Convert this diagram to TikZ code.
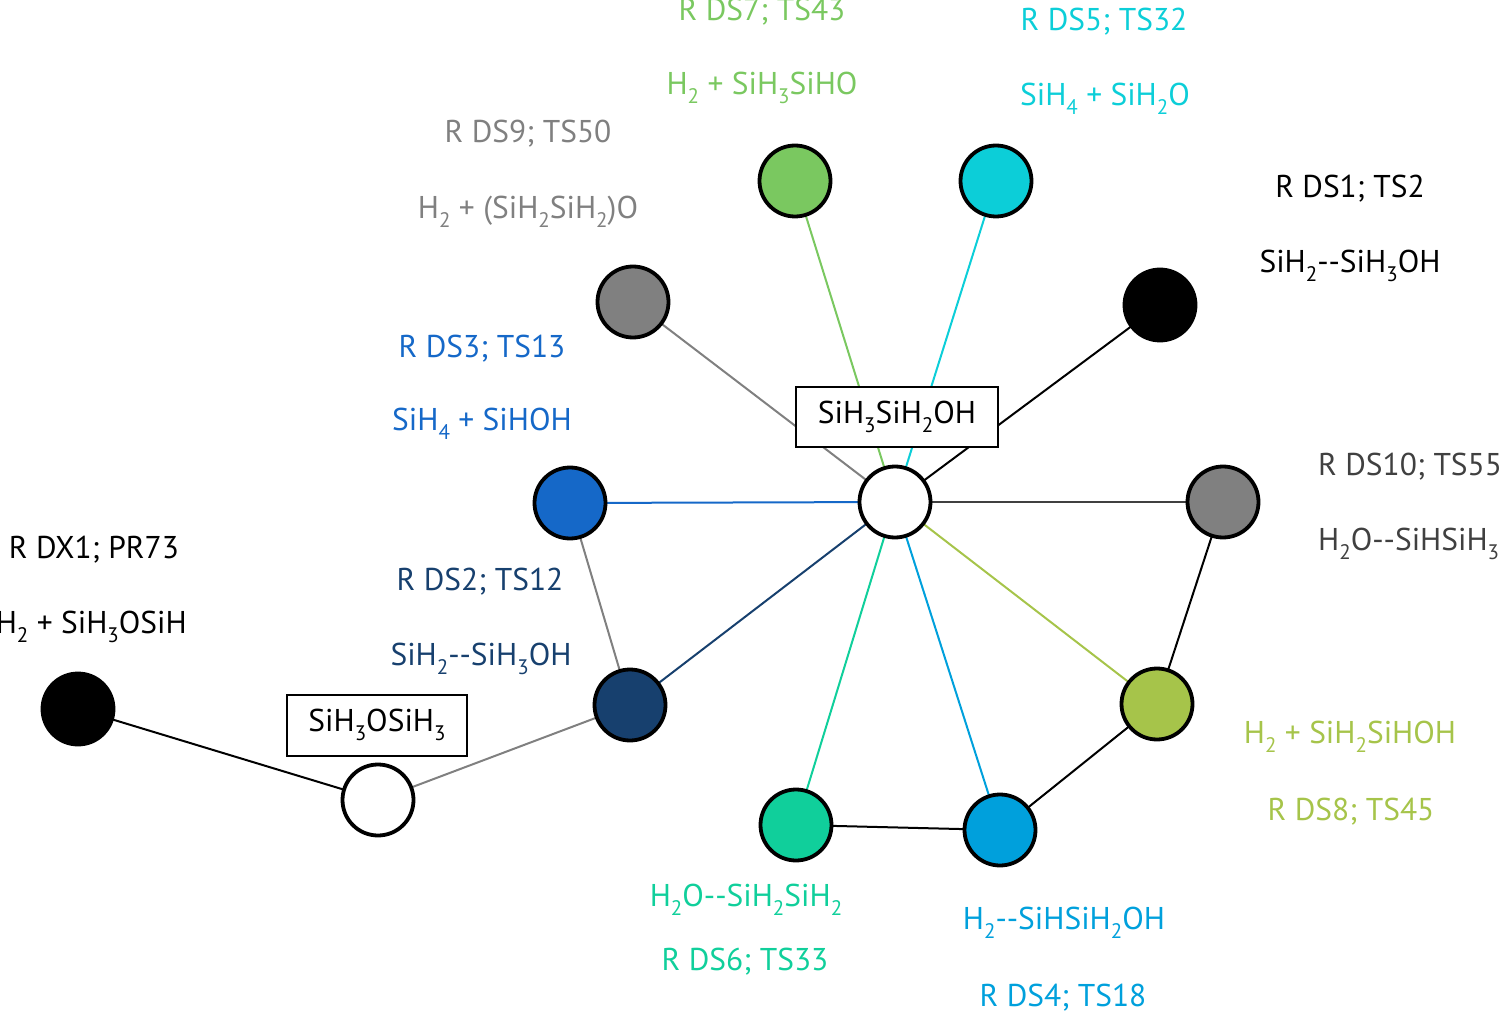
\documentclass[tikz,border=0pt]{standalone}
\usepackage{fontspec}
\setmainfont{PT Sans}
\pgfdeclarelayer{background}
\pgfsetlayers{background,main}
\definecolor{cgreen}{RGB}{122,200,96}
\definecolor{ccyan}{RGB}{12,206,216}
\definecolor{cgray}{RGB}{128,128,128}
\definecolor{cdgray}{RGB}{64,64,64}
\definecolor{cblue}{RGB}{21,104,200}
\definecolor{cnavy}{RGB}{23,64,110}
\definecolor{colive}{RGB}{166,196,74}
\definecolor{csky}{RGB}{0,160,220}
\definecolor{cteal}{RGB}{16,207,155}
\newcommand\sbs[1]{\raisebox{-0.3em}{\fontsize{21}{24}\selectfont #1}}
\begin{document}
\begin{tikzpicture}[x=1pt,y=-1pt,
  st/.style={circle, draw=black, line width=3.8pt, minimum size=71pt, inner sep=0pt},
  lbl/.style={font=\fontsize{31.5}{36}\selectfont, inner sep=0pt},
  mbox/.style={draw=black, line width=2pt, fill=white, font=\fontsize{31.5}{36}\selectfont, inner sep=0pt},
  edge/.style={line width=2pt}]
\useasboundingbox (0,0) rectangle (1500,1016);
% circles
\node[st, fill=white] (c) at (895,502) {};
\node[st, fill=black] (ds1) at (1160,305) {};
\node[st, fill=ccyan] (ds5) at (996,181) {};
\node[st, fill=cgreen] (ds7) at (795,181) {};
\node[st, fill=cgray] (ds9) at (633,302) {};
\node[st, fill=cblue] (ds3) at (570,503) {};
\node[st, fill=cgray] (ds10) at (1223,502) {};
\node[st, fill=colive] (ds8) at (1157,704) {};
\node[st, fill=csky] (ds4) at (1000,830) {};
\node[st, fill=cteal] (ds6) at (796,825) {};
\node[st, fill=cnavy] (ds2) at (630,705) {};
\node[st, fill=white] (w2) at (378,800) {};
\node[st, fill=black] (dx1) at (78,709) {};
% boxes
\node[mbox, minimum width=202pt, minimum height=60pt] (b1) at (897,417) {SiH\sbs{3}SiH\sbs{2}OH};
\node[mbox, minimum width=180pt, minimum height=61pt] (b2) at (377,725) {SiH\sbs{3}OSiH\sbs{3}};
% edges
\begin{pgfonlayer}{background}
\draw[edge, black] (c.center) -- (ds1.center);
\draw[edge, ccyan] (c.center) -- (ds5.center);
\draw[edge, cgreen] (c.center) -- (ds7.center);
\draw[edge, cgray] (c.center) -- (ds9.center);
\draw[edge, cblue] (c.center) -- (ds3.center);
\draw[edge, cdgray] (c.center) -- (ds10.center);
\draw[edge, colive] (c.center) -- (ds8.center);
\draw[edge, csky] (c.center) -- (ds4.center);
\draw[edge, cteal] (c.center) -- (ds6.center);
\draw[edge, cnavy] (c.center) -- (ds2.center);
\draw[edge, cgray] (ds3.center) -- (ds2.center);
\draw[edge, cgray] (ds2.center) -- (w2.center);
\draw[edge, black] (w2.center) -- (dx1.center);
\draw[edge, black] (ds10.center) -- (ds8.center);
\draw[edge, black] (ds8.center) -- (ds4.center);
\draw[edge, black] (ds4.center) -- (ds6.center);
\end{pgfonlayer}
% labels
\node[lbl, text=cgreen] (t7a) at (762,12) {R DS7; TS43};
\node[lbl, text=cgreen] (t7b) at (762,88) {H\sbs{2} + SiH\sbs{3}SiHO};
\node[lbl, text=ccyan] (t5a) at (1104,22) {R DS5; TS32};
\node[lbl, text=ccyan] (t5b) at (1105,99) {SiH\sbs{4} + SiH\sbs{2}O};
\node[lbl, text=cgray] (t9a) at (528,134) {R DS9; TS50};
\node[lbl, text=cgray] (t9b) at (528,212) {H\sbs{2} + (SiH\sbs{2}SiH\sbs{2})O};
\node[lbl, text=black] (t1a) at (1350,189) {R DS1; TS2};
\node[lbl, text=black] (t1b) at (1350,266) {SiH\sbs{2}{-}{-}SiH\sbs{3}OH};
\node[lbl, text=cblue] (t3a) at (482,349) {R DS3; TS13};
\node[lbl, text=cblue] (t3b) at (482,424) {SiH\sbs{4} + SiHOH};
\node[lbl, text=cdgray, anchor=west] (t10a) at (1318,467) {R DS10; TS55};
\node[lbl, text=cdgray, anchor=west] (t10b) at (1318,544) {H\sbs{2}O{-}{-}SiHSiH\sbs{3}};
\node[lbl, text=black] (tx1a) at (94,550) {R DX1; PR73};
\node[lbl, text=black, anchor=east] (tx1b) at (187,627) {H\sbs{2} + SiH\sbs{3}OSiH};
\node[lbl, text=cnavy] (t2a) at (480,582) {R DS2; TS12};
\node[lbl, text=cnavy] (t2b) at (481,659) {SiH\sbs{2}{-}{-}SiH\sbs{3}OH};
\node[lbl, text=colive] (t8a) at (1350,737) {H\sbs{2} + SiH\sbs{2}SiHOH};
\node[lbl, text=colive] (t8b) at (1351,812) {R DS8; TS45};
\node[lbl, text=cteal] (t6a) at (746,900) {H\sbs{2}O{-}{-}SiH\sbs{2}SiH\sbs{2}};
\node[lbl, text=cteal] (t6b) at (745,962) {R DS6; TS33};
\node[lbl, text=csky] (t4a) at (1064,923) {H\sbs{2}{-}{-}SiHSiH\sbs{2}OH};
\node[lbl, text=csky] (t4b) at (1063,998) {R DS4; TS18};
\end{tikzpicture}
\end{document}
